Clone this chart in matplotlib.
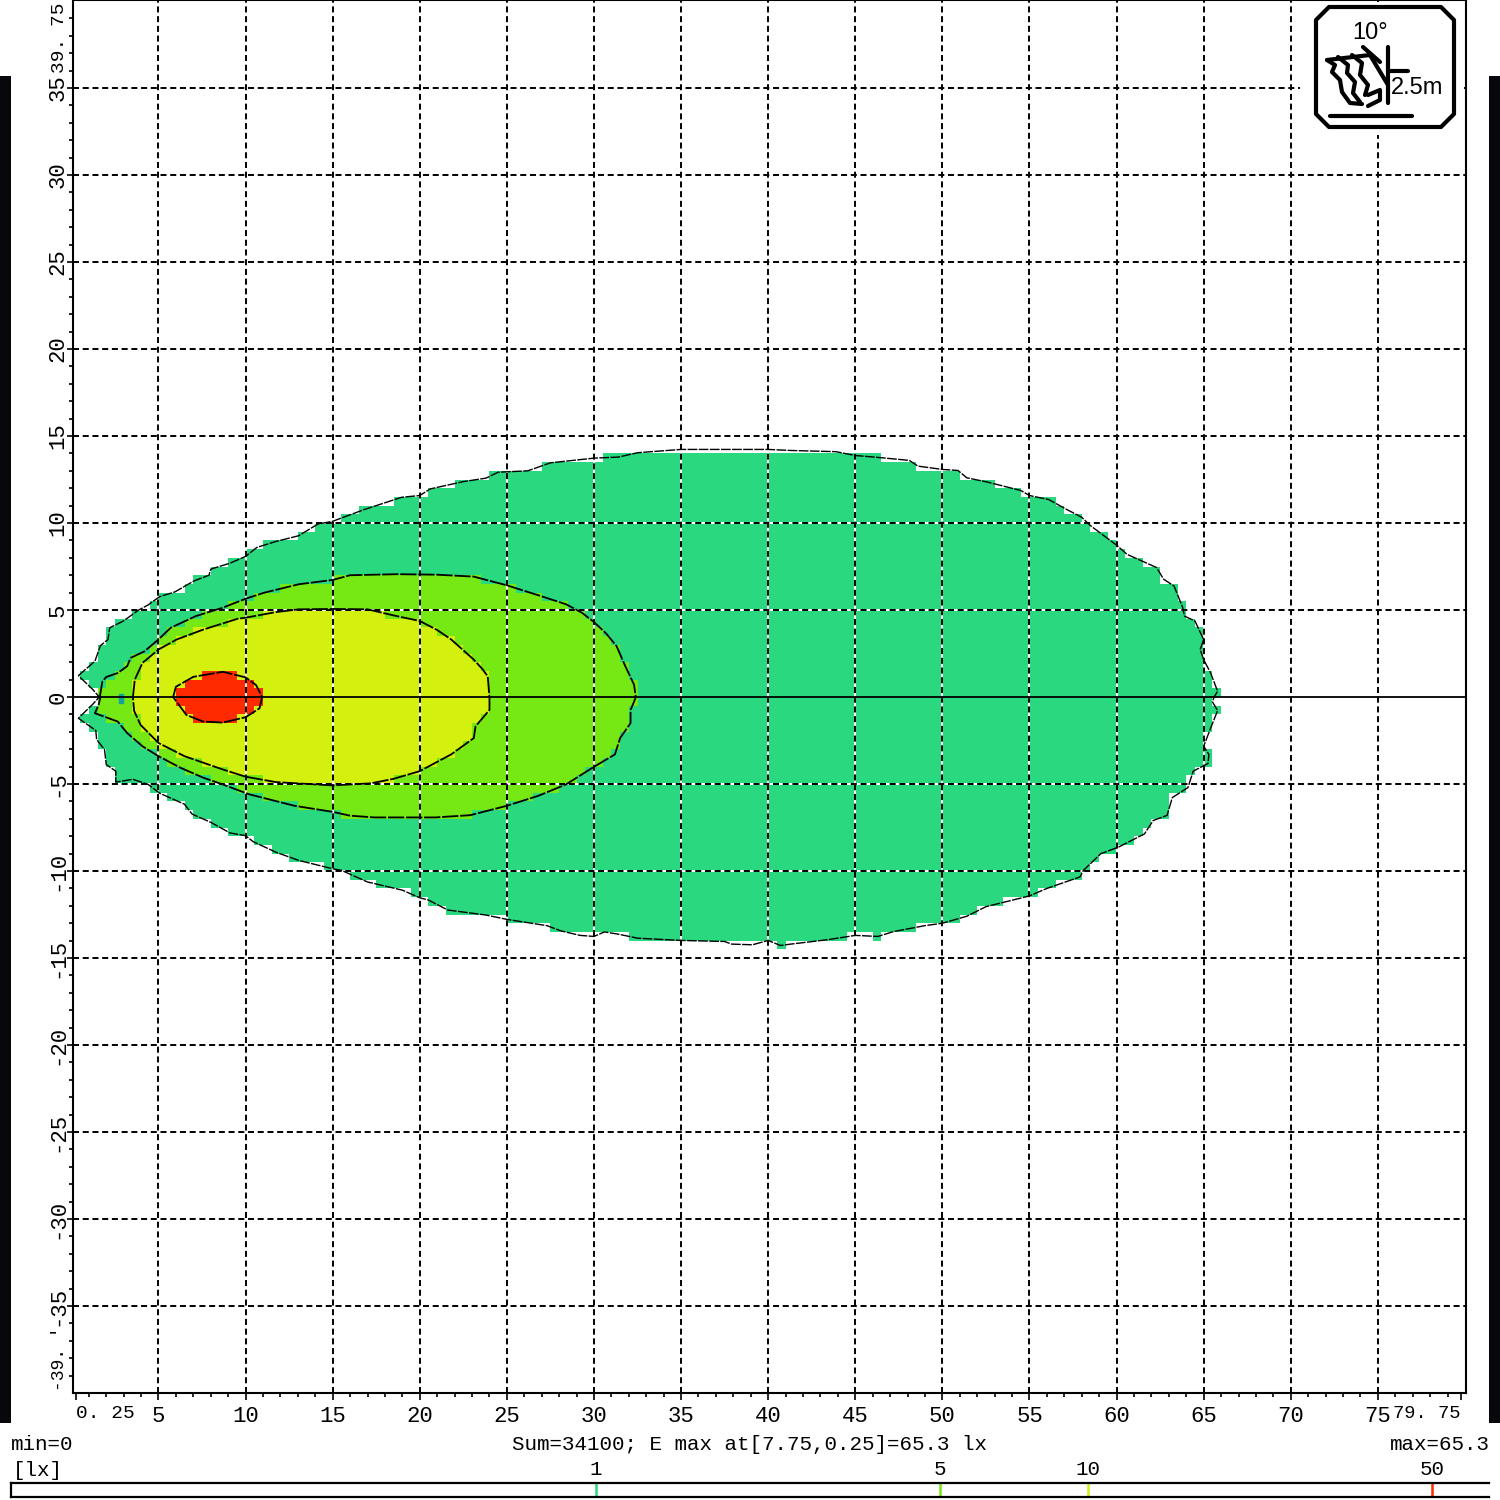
import numpy as np
import matplotlib
matplotlib.use('Agg')
import matplotlib.pyplot as plt
from matplotlib.colors import ListedColormap
from matplotlib.patches import Rectangle, Polygon
from matplotlib.path import Path

plt.rcParams['font.family'] = ['Liberation Mono', 'DejaVu Sans Mono']

# isolux contours, metres
outer_x = [0.4,1.35,1.67,2.1,2.2,2.99,3.86,4.4,5.07,5.94,7.03,7.9,8.0,9.1,10,10.65,11.74,13.05,14.15,15,16.8,18.96,20,20.6,22.5,23.8,24.5,26.2,27.5,30,31.4,32.5,35,40,41.3,43.9,45,46.1,48.1,48.6,50,50.9,51.4,52.6,54.5,55,56.1,57.1,58,58.5,60,60.6,62.3,62.7,63.3,63.8,63.9,64.5,65,64.8,65,65.4,65.8,65.6,65.5,65.8,65.4,65,65.3,65.25,64.4,64.1,63.2,62.9,62.1,61.6,60.1,59.1,58.1,57.9,56,55,52.5,51.4,50,49,47.2,46.3,45,43.4,41.3,40.7,40,39.1,37.9,37.5,35,32.5,31.4,30.6,30,29.2,28.1,27.3,25,23.8,21.6,20.5,20,19,17,15.5,15,13.05,11.74,10.43,10,9.1,8,6.93,6.49,5.07,4.4,3.53,2.55,2.55,2.0,1.9,1.45,1.4,0.4,1.24,1.6,1.24]
outer_y = [1.23,2.06,2.96,3.3,3.98,4.37,5.0,5.29,5.77,6.04,6.67,7.0,7.35,7.69,8.08,8.6,8.94,9.27,9.94,10.1,10.77,11.48,11.58,11.96,12.38,12.58,12.92,13.0,13.46,13.73,13.79,14.04,14.23,14.23,14.17,14.1,13.88,13.79,13.6,13.27,13.08,13.02,12.6,12.35,11.87,11.58,11.35,10.8,10.33,9.85,8.73,8.2,7.44,6.77,6.38,5.13,4.65,4.37,3.3,2.73,2.15,1.38,0.33,0,-0.27,-0.78,-1.79,-2.83,-3.3,-3.82,-4.26,-5.2,-5.78,-6.8,-7.1,-7.87,-8.63,-9.0,-9.96,-10.34,-11.0,-11.43,-12.05,-12.6,-13.0,-13.14,-13.48,-13.76,-13.7,-13.95,-14.2,-14.28,-13.99,-14.24,-14.2,-14.05,-13.99,-13.86,-13.63,-13.5,-13.76,-13.7,-13.44,-13.14,-12.78,-12.53,-12.24,-11.67,-11.54,-11.1,-10.63,-9.96,-9.87,-9.39,-8.92,-8.31,-7.97,-7.81,-7.2,-6.73,-6.16,-5.53,-5.02,-4.73,-4.89,-4.26,-3.88,-3.02,-2.45,-1.92,-1.22,-0.4,0,0.42]
green_x = [1.63,1.78,2.0,2.66,3.2,3.4,4.2,5,5.7,7.14,8.68,10,11.08,13.05,15,16,18.74,21,23.1,25,26.8,28.4,29.3,30,30.7,31.3,31.8,32.3,32.4,32.3,32.1,32.1,31.5,31.2,30,28.4,26.8,25,22.9,20.9,17.4,16,15,12.8,10.2,8.68,7.58,6.27,5,4.08,3.2,2.66,1.35,1.56,1.67]
green_y = [0,0.9,1.15,1.38,1.77,2.25,2.63,3.31,3.98,4.65,5.13,5.65,6.0,6.48,6.73,7.0,7.06,7.03,6.92,6.42,5.85,5.33,4.85,4.31,3.65,2.92,1.77,0.71,0,-0.27,-0.74,-1.5,-2.36,-3.3,-4.01,-5.02,-5.68,-6.25,-6.79,-6.92,-6.92,-6.82,-6.6,-6.25,-5.59,-5.02,-4.64,-4.07,-3.4,-2.83,-2.07,-1.41,-0.93,-0.46,0]
yellow_x = [3.53,3.64,4.08,5,6.05,7.58,9.55,10,11.74,13.05,15,17,18.5,20,21,21.8,23.1,23.6,23.9,24,24,23.2,23.1,21.8,20,18.5,17.2,15,11.74,10,8.68,6.49,5,3.97,3.6,3.53]
yellow_y = [0,1.0,1.96,2.73,3.31,3.88,4.5,4.56,4.88,5.04,5.06,5.04,4.69,4.37,3.85,3.31,2.15,1.6,1.19,0,-0.74,-1.69,-2.36,-3.3,-4.26,-4.7,-4.96,-5.08,-4.89,-4.58,-4.16,-3.4,-2.64,-1.6,-0.8,0]
red_x = [5.84,6,7,8.7,10,10.6,10.95,10.8,10,8.7,7.56,6.6,5.84]
red_y = [0,0.59,1.16,1.45,1.13,0.69,0,-0.65,-1.16,-1.47,-1.41,-1.03,0]
blip_x = [2.75,2.95,2.95,2.75,2.75]
blip_y = [0.2,0.2,-0.35,-0.35,0.2]

x_ticks = [0.25,5,10,15,20,25,30,35,40,45,50,55,60,65,70,75,79.75]
x_labels = ['0. 25','5','10','15','20','25','30','35','40','45','50','55','60','65','70','75','79. 75']
y_ticks = [-35,-30,-25,-20,-15,-10,-5,0,5,10,15,20,25,30,35]
levels = [1,5,10,50]
level_colors = ['#2ad880','#76e814','#d4f00e','#ff2a00']
scale_min = 0.0647
scale_max = 65.3

W = 1500
fig = plt.figure(figsize=(15,15), dpi=100)
ax = fig.add_axes([73/W, 107/W, (1466-73)/W, 1393/W])
ax.set_xlim(0.092, 80.06)
ax.set_ylim(-40.0, 40.06)

# filled cells on the 0.5 m calculation grid, hence the stepped edges
xe = np.arange(0, 80.5, 0.5)
ye = np.arange(-40, 40.5, 0.5)
xc, yc = np.meshgrid(xe[:-1]+0.25, ye[:-1]+0.25)
pts = np.column_stack([xc.ravel(), yc.ravel()])
cls = np.zeros(len(pts))
for i, (px, py) in enumerate([(outer_x,outer_y),(green_x,green_y),(yellow_x,yellow_y),(red_x,red_y)]):
    cls[Path(np.column_stack([px,py])).contains_points(pts)] = i+1
cmap = ListedColormap(['white']+level_colors)
ax.pcolormesh(xe, ye, cls.reshape(xc.shape), cmap=cmap, vmin=0, vmax=4, zorder=1)

for x in x_ticks[1:-1]:
    ax.axvline(x, color='white', lw=1.4, zorder=2)
    ax.axvline(x, color='black', lw=1.4, dashes=(3.1,1.9), zorder=3)
for y in y_ticks:
    if y == 0:
        continue
    ax.axhline(y, color='white', lw=1.4, zorder=2)
    ax.axhline(y, color='black', lw=1.4, dashes=(3.1,1.9), zorder=3)
ax.axhline(0, color='black', lw=1.3, zorder=5)

ax.plot(outer_x+outer_x[:1], outer_y+outer_y[:1], color='black', lw=1.0, dashes=(7,1), zorder=4)
ax.plot(green_x, green_y, color='black', lw=1.3, dashes=(9,1), zorder=4)
ax.plot(yellow_x, yellow_y, color='black', lw=1.3, dashes=(9,1), zorder=4)
ax.plot(red_x, red_y, color='black', lw=1.3, dashes=(9,1), zorder=4)
ax.fill(blip_x, blip_y, color='#17a0a0', zorder=4)

ax.set_xticks(x_ticks)
ax.set_xticklabels(x_labels, fontsize=16)
ax.set_xticks(np.arange(1,80,1), minor=True)
ax.set_yticks(y_ticks)
ax.set_yticklabels([str(v) for v in y_ticks], fontsize=16, rotation=90, va='center')
ax.set_yticks(np.arange(-39,40,1), minor=True)
ax.tick_params(axis='x', which='major', length=5, width=1.2, pad=4)
ax.tick_params(axis='y', which='major', length=4, width=1.2, pad=-1)
ax.tick_params(axis='both', which='minor', length=3, width=1.2)
xl = ax.get_xticklabels()
xl[0].set_ha('left')
xl[0].set_fontsize(14)
xl[-1].set_ha('right')
xl[-1].set_fontsize(13.5)
for s in ax.spines.values():
    s.set_linewidth(1.5)
ax.text(-0.0095, 39.9, '39. 75', rotation=90, fontsize=14, ha='center', va='top', transform=ax.get_yaxis_transform())
ax.text(-0.0095, -39.9, "-39. '", rotation=90, fontsize=13, ha='center', va='bottom', transform=ax.get_yaxis_transform())

# overlay in picture pixels: side bars, summary text, lamp icon
ov = fig.add_axes([0,0,1,1], facecolor='none')
ov.set_xlim(0,W)
ov.set_ylim(W,0)
ov.axis('off')
ov.add_patch(Rectangle((0,76), 11, 1347, color='#08080c', lw=0))
ov.add_patch(Rectangle((1489,76), 11, 1347, color='#08080c', lw=0))
ov.text(11, 1444, 'min=0', fontsize=15, va='center', ha='left')
ov.text(750, 1444, 'Sum=34100; E max at[7.75,0.25]=65.3 lx', fontsize=15, va='center', ha='center')
ov.text(1490, 1444, 'max=65.3', fontsize=15, va='center', ha='right')
ov.text(13, 1470, '[lx]', fontsize=15, va='center', ha='left')

ov.add_patch(Rectangle((1300,2), 164, 133, color='white', lw=0))
box = [(1329,7),(1441,7),(1454,20),(1454,114),(1441,127),(1329,127),(1316,114),(1316,20)]
ov.add_patch(Polygon(box, closed=True, fill=False, ec='black', lw=3, joinstyle='round'))
ov.text(1370, 33, '10°', fontsize=17, family='Liberation Sans', ha='center', va='center')
ov.text(1417, 88, '2.5m', fontsize=17, family='Liberation Sans', ha='center', va='center')
icon_lines = [
    [(1330,116),(1412,116)],
    [(1388,47),(1388,103)],
    [(1390,71),(1408,71)],
    [(1363,47),(1380,62)],
    [(1327,60),(1370,55),(1388,85)],
    [(1327,60),(1335,65),(1332,72),(1340,80),(1342,92),(1350,103),(1362,104)],
    [(1338,57),(1348,65),(1347,73),(1355,82),(1353,93),(1360,102)],
    [(1352,55),(1362,63),(1360,75),(1368,85),(1365,95)],
    [(1368,95),(1380,90),(1380,100),(1368,106)],
]
for seg in icon_lines:
    ov.plot(*zip(*seg), color='black', lw=3, solid_capstyle='round')

# colour scale bar
leg = fig.add_axes([11/W, 3/W, (1489-11)/W, 14/W])
leg.set_xscale('log')
leg.set_xlim(scale_min, scale_max)
leg.set_ylim(0,1)
leg.set_xticks([])
leg.set_yticks([])
leg.minorticks_off()
leg.spines['right'].set_visible(False)
for s in ['top','bottom','left']:
    leg.spines[s].set_linewidth(1.6)
for lv, c in zip(levels, level_colors):
    leg.axvline(lv, color=c, lw=1.8)
    leg.text(lv, 1.93, str(lv), fontsize=15, ha='center', va='center', transform=leg.get_xaxis_transform())

fig.savefig('out.png', dpi=100)
